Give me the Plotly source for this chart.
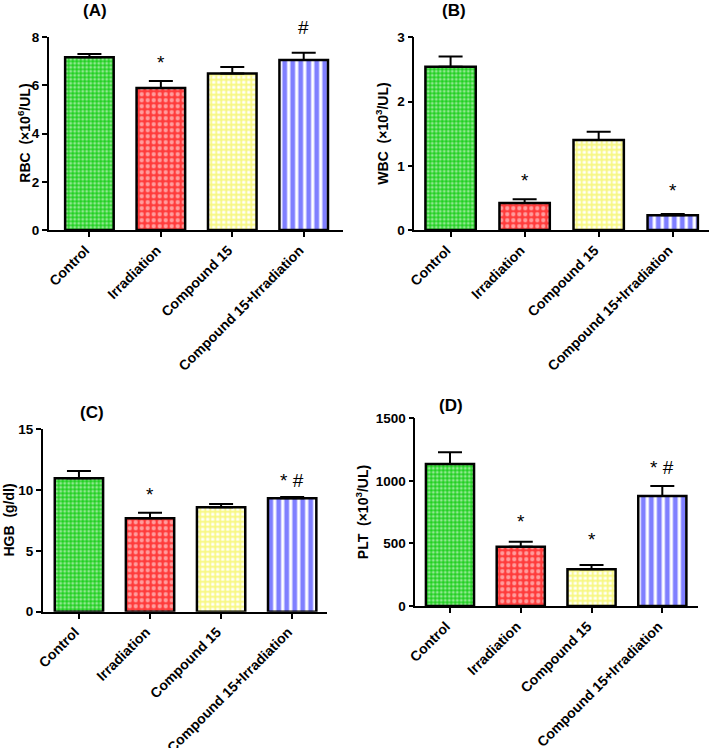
import plotly.graph_objects as go

W, H = 713, 748

groups = ["Control", "Irradiation", "Compound 15", "Compound 15+Irradiation"]

rbc_mean = [7.17, 5.89, 6.50, 7.06]
rbc_err = [0.14, 0.30, 0.27, 0.30]
rbc_sig = ["", "*", "", "#"]

wbc_mean = [2.54, 0.42, 1.40, 0.23]
wbc_err = [0.16, 0.06, 0.13, 0.02]
wbc_sig = ["", "*", "", "*"]

hgb_mean = [10.97, 7.68, 8.58, 9.32]
hgb_err = [0.60, 0.46, 0.28, 0.11]
hgb_sig = ["", "*", "", "* #"]

plt_mean = [1135, 474, 293, 879]
plt_err = [93, 40, 35, 80]
plt_sig = ["", "*", "*", "* #"]

patterns = [
    dict(shape=".", bgcolor="#22d022", fgcolor="#ffffff", size=4, solidity=0.45),
    dict(shape=".", bgcolor="#ff3b3b", fgcolor="#ffffff", size=6, solidity=0.4),
    dict(shape="+", bgcolor="#ffffff", fgcolor="#f0f000", size=5, solidity=0.6),
    dict(shape="|", bgcolor="#ffffff", fgcolor="#0000ff", size=8, solidity=0.6),
]

# panel geometry in pixels: (x_left, x_right, y_top, y_bottom); sig_dy: extra label lift in px
panels = [
    dict(key="", px=(48.7, 343), py=(37.3, 230), yr=[0, 8], dt=2, xr=[-0.57, 3.55],
         mean=rbc_mean, err=rbc_err, sig=rbc_sig, sig_dy=[0, 0, 0, 7],
         title="(A)", tpos=(95, 10),
         ytitle="RBC&#160; (×10<sup>6</sup>/UL)", ytx=24),
    dict(key="2", px=(414.3, 709), py=(37.3, 230), yr=[0, 3], dt=1, xr=[-0.49, 3.49],
         mean=wbc_mean, err=wbc_err, sig=wbc_sig, sig_dy=[0, 0, 0, 5],
         title="(B)", tpos=(454, 10),
         ytitle="WBC&#160; (×10<sup>3</sup>/UL)", ytx=382),
    dict(key="3", px=(42.7, 327), py=(429.3, 611.7), yr=[0, 15], dt=5, xr=[-0.51, 3.49],
         mean=hgb_mean, err=hgb_err, sig=hgb_sig, sig_dy=[0, 0, 0, -2],
         title="(C)", tpos=(92, 412),
         ytitle="HGB&#160; (g/dl)", ytx=8),
    dict(key="4", px=(415.3, 697.7), py=(418.3, 606), yr=[0, 1500], dt=500, xr=[-0.49, 3.5],
         mean=plt_mean, err=plt_err, sig=plt_sig, sig_dy=[0, 2, 7, 0],
         title="(D)", tpos=(451, 406),
         ytitle="PLT&#160; (×10<sup>3</sup>/UL)", ytx=362),
]

fig = go.Figure()
annotations = []
layout = {}
fam = "Liberation Sans"

for p in panels:
    k = p["key"]
    xa, ya = "x" + k, "y" + k
    for i, g in enumerate(groups):
        fig.add_trace(go.Bar(
            x=[g], y=[p["mean"][i]], xaxis=xa, yaxis=ya, width=0.68,
            marker=dict(color="white", pattern=patterns[i],
                        line=dict(color="black", width=2.5)),
            error_y=dict(type="data", array=[p["err"][i]], arrayminus=[0],
                         symmetric=False, color="black", thickness=2, width=12),
            showlegend=False, hoverinfo="skip"))
        if p["sig"][i]:
            annotations.append(dict(
                x=g, y=p["mean"][i] + p["err"][i], xref=xa, yref=ya,
                text=p["sig"][i], showarrow=False, yanchor="bottom",
                yshift=6 + p["sig_dy"][i],
                font=dict(family=fam, size=19, color="black")))
    x0, x1 = p["px"]
    y0, y1 = p["py"]
    layout["xaxis" + k] = dict(
        domain=[x0 / W, x1 / W], anchor=ya, type="category", automargin=False,
        categoryorder="array", categoryarray=groups, range=p["xr"],
        showline=True, linecolor="black", linewidth=1.6, ticks="outside",
        ticklen=5, tickwidth=1.5, tickcolor="black", tickangle=-45,
        ticklabelshift=-4,
        tickfont=dict(family=fam, size=14, color="black", weight="bold"),
        showgrid=False, zeroline=False, fixedrange=True)
    layout["yaxis" + k] = dict(
        domain=[1 - y1 / H, 1 - y0 / H], anchor=xa, range=p["yr"], dtick=p["dt"],
        automargin=False,
        showline=True, linecolor="black", linewidth=1.6, ticks="outside",
        ticklen=5, tickwidth=1.5, tickcolor="black",
        tickfont=dict(family=fam, size=13.5, color="black", weight="bold"),
        showgrid=False, zeroline=False, fixedrange=True)
    annotations.append(dict(
        x=p["tpos"][0] / W, y=1 - p["tpos"][1] / H, xref="paper", yref="paper",
        text="<b>" + p["title"] + "</b>", showarrow=False, xanchor="center", yanchor="middle",
        font=dict(family=fam, size=17, color="black")))
    annotations.append(dict(
        x=p["ytx"] / W, y=1 - (y0 + y1) / 2 / H, xref="paper", yref="paper",
        text="<b>" + p["ytitle"] + "</b>", showarrow=False, textangle=-90,
        xanchor="center", yanchor="middle",
        font=dict(family=fam, size=14, color="black")))

fig.update_layout(
    width=W, height=H, margin=dict(l=0, r=0, t=0, b=0, autoexpand=False),
    plot_bgcolor="white", paper_bgcolor="white", barmode="overlay",
    annotations=annotations, **layout)

fig.write_html("out.html", config={"displayModeBar": False},
               post_script="document.body.style.margin='0px';document.body.style.overflow='hidden';")
